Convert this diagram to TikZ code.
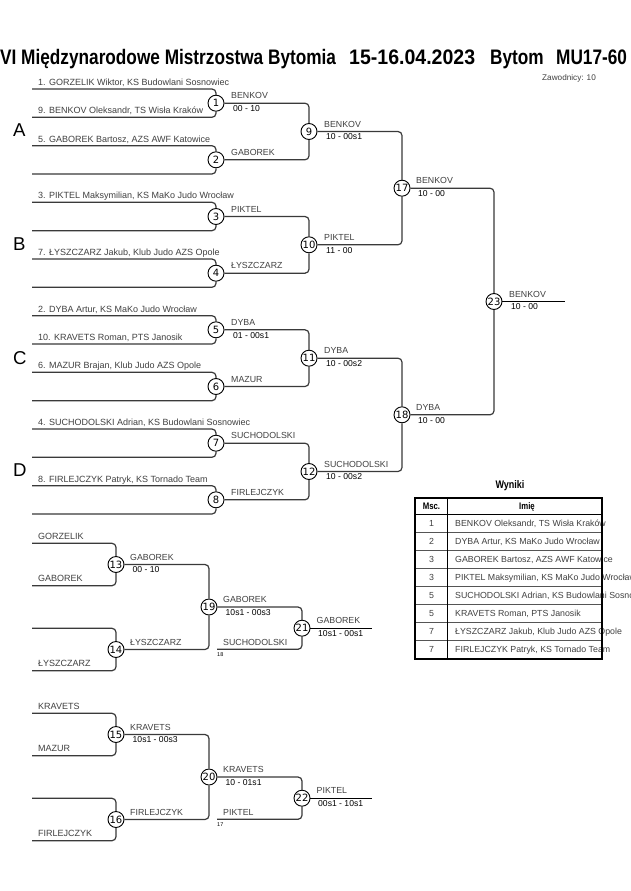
\documentclass[tikz,border=0pt]{standalone}
\usepackage{fontspec}
\setmainfont{Liberation Sans}
\newfontfamily\titlefont[FakeStretch=0.82]{Liberation Sans}
\newfontfamily\datefont[FakeStretch=0.93]{Liberation Sans}
\newfontfamily\numfont{DejaVu Sans}
\definecolor{ln}{HTML}{3A3A3A}
\definecolor{tx}{HTML}{404040}
\definecolor{grid}{HTML}{555555}
\tikzset{
  conn/.style={draw=ln, line width=1.2pt, rounded corners=4pt},
  outl/.style={draw=black, line width=1.1pt},
  mnum/.style={circle, draw=black, fill=white, line width=0.9pt, minimum size=16pt, inner sep=0pt, font=\numfont\fontsize{10}{10}\selectfont},
  entry/.style={anchor=base west, inner sep=0pt, text=tx, font=\fontsize{9}{9}\selectfont},
  wname/.style={anchor=base west, inner sep=0pt, text=tx, font=\fontsize{8.8}{9}\selectfont},
  score/.style={anchor=base west, inner sep=0pt, text=black, font=\fontsize{8.6}{9}\selectfont},
  tiny/.style={anchor=base west, inner sep=0pt, text=black, font=\fontsize{5.5}{6}\selectfont},
  grp/.style={anchor=base west, inner sep=0pt, text=black, font=\fontsize{18.6}{19}\selectfont},
  ttl/.style={anchor=base west, inner sep=0pt, text=black, font=\titlefont\bfseries\fontsize{21}{21}\selectfont},
  ttldate/.style={anchor=base west, inner sep=0pt, text=black, font=\datefont\bfseries\fontsize{21}{21}\selectfont},
  zaw/.style={anchor=base west, inner sep=0pt, text=tx, font=\fontsize{8.2}{9}\selectfont},
  wyn/.style={anchor=base, inner sep=0pt, text=black, font=\titlefont\bfseries\fontsize{11}{11}\selectfont},
  hdr/.style={anchor=base, inner sep=0pt, text=black, font=\titlefont\bfseries\fontsize{9.5}{9.5}\selectfont},
  cell/.style={anchor=base west, inner sep=0pt, text=tx, font=\fontsize{8.8}{9}\selectfont},
  cellc/.style={anchor=base, inner sep=0pt, text=tx, font=\fontsize{8.8}{9}\selectfont},
}
\begin{document}
\begin{tikzpicture}[x=1pt,y=-1pt]
\useasboundingbox[fill=white] (0,0) rectangle (630,891);

% ---------- title ----------
\node[ttl] (title1) at (0,64) {VI Międzynarodowe Mistrzostwa Bytomia};
\node[ttldate] (title2) at (349,64) {15-16.04.2023};
\node[ttl] (title3) at (490,64) {Bytom};
\node[ttl] (title4) at (556,64) {MU17-60};
\node[zaw] (zawod) at (542,80.5) {Zawodnicy: 10};

% ---------- group letters ----------
\node[grp] (gA) at (13,136.7) {A};
\node[grp] (gB) at (13,250) {B};
\node[grp] (gC) at (13,364) {C};
\node[grp] (gD) at (13,476.7) {D};

% ---------- match circles ----------
\foreach \n/\x/\y in {1/216/103.2, 2/216/159.8, 3/216/216.5, 4/216/273.2,
  5/216/329.8, 6/216/386.5, 7/216/443.2, 8/216/499.8,
  9/309/131.5, 10/309/244.8, 11/309/358.2, 12/309/471.5,
  17/402/188.2, 18/402/414.8, 23/494/301.5,
  13/116/564.5, 14/116/649.5, 19/209/607, 21/302/628.2,
  15/116/734.5, 16/116/819.5, 20/209/777, 22/302/798.2}
  \node[mnum] (m\n) at (\x,\y) {\n};

% ---------- entry start points ----------
\foreach \i/\y in {0/89, 1/117.3, 2/145.7, 3/174, 4/202.3, 5/230.7, 6/259, 7/287.3,
  8/315.7, 9/344, 10/372.3, 11/400.7, 12/429, 13/457.3, 14/485.7, 15/514}
  \coordinate (e\i) at (32,\y);
\foreach \i/\y in {0/543.3, 1/585.7, 2/628.3, 3/670.7, 4/713.3, 5/755.7, 6/798.3, 7/840.7}
  \coordinate (r\i) at (32,\y);
\coordinate (f23) at (565,301.5);
\coordinate (f21) at (372,628.2);
\coordinate (f22) at (372,798.2);
\coordinate (i21) at (217,649.3);
\coordinate (i22) at (217,819.3);

% ---------- connectors ----------
\foreach \a/\b/\m in {0/1/1, 2/3/2, 4/5/3, 6/7/4, 8/9/5, 10/11/6, 12/13/7, 14/15/8} {
  \draw[conn] (e\a) -| (m\m);
  \draw[conn] (e\b) -| (m\m);
}
\foreach \a/\b/\m in {0/1/13, 2/3/14, 4/5/15, 6/7/16} {
  \draw[conn] (r\a) -| (m\m);
  \draw[conn] (r\b) -| (m\m);
}
\foreach \s/\t in {1/9, 2/9, 3/10, 4/10, 5/11, 6/11, 7/12, 8/12,
  9/17, 10/17, 11/18, 12/18, 17/23, 18/23,
  13/19, 14/19, 19/21, 15/20, 16/20, 20/22}
  \draw[conn] (m\s) -| (m\t);
\draw[conn] (i21) -| (m21);
\draw[conn] (i22) -| (m22);
\draw[outl] (m23) -- (f23);
\draw[outl] (m21) -- (f21);
\draw[outl] (m22) -- (f22);

% ---------- entry texts ----------
\node[entry] (t0) at (38,85.6) {1. GORZELIK Wiktor, KS Budowlani Sosnowiec};
\node[entry] (t1) at (38,113.9) {9. BENKOV Oleksandr, TS Wisła Kraków};
\node[entry] (t2) at (38,142.3) {5. GABOREK Bartosz, AZS AWF Katowice};
\node[entry] (t4) at (38,198.9) {3. PIKTEL Maksymilian, KS MaKo Judo Wrocław};
\node[entry] (t6) at (38,255.6) {7. ŁYSZCZARZ Jakub, Klub Judo AZS Opole};
\node[entry] (t8) at (38,312.3) {2. DYBA Artur, KS MaKo Judo Wrocław};
\node[entry] (t9) at (38,340.6) {10. KRAVETS Roman, PTS Janosik};
\node[entry] (t10) at (38,368.9) {6. MAZUR Brajan, Klub Judo AZS Opole};
\node[entry] (t12) at (38,425.6) {4. SUCHODOLSKI Adrian, KS Budowlani Sosnowiec};
\node[entry] (t14) at (38,482.3) {8. FIRLEJCZYK Patryk, KS Tornado Team};

\node[entry] (rt0) at (38,539.5) {GORZELIK};
\node[entry] (rt1) at (38,581.9) {GABOREK};
\node[entry] (rt3) at (38,666.9) {ŁYSZCZARZ};
\node[entry] (rt4) at (38,709.5) {KRAVETS};
\node[entry] (rt5) at (38,751.9) {MAZUR};
\node[entry] (rt7) at (38,836.9) {FIRLEJCZYK};

% ---------- winner names and scores ----------
\node[wname] (w1) at (231,98.9) {BENKOV};
\node[score] (s1) at (233,111.6) {00 - 10};
\node[wname] (w2) at (231,155.5) {GABOREK};
\node[wname] (w3) at (231,212.2) {PIKTEL};
\node[wname] (w4) at (231,268.9) {ŁYSZCZARZ};
\node[wname] (w5) at (231,325.5) {DYBA};
\node[score] (s5) at (233,338.2) {01 - 00s1};
\node[wname] (w6) at (231,382.2) {MAZUR};
\node[wname] (w7) at (231,438.9) {SUCHODOLSKI};
\node[wname] (w8) at (231,495.5) {FIRLEJCZYK};
\node[wname] (w9) at (324,127.2) {BENKOV};
\node[score] (s9) at (326,139.9) {10 - 00s1};
\node[wname] (w10) at (324,240.5) {PIKTEL};
\node[score] (s10) at (326,253.2) {11 - 00};
\node[wname] (w11) at (324,353.9) {DYBA};
\node[score] (s11) at (326,366.6) {10 - 00s2};
\node[wname] (w12) at (324,467.2) {SUCHODOLSKI};
\node[score] (s12) at (326,479.9) {10 - 00s2};
\node[wname] (w17) at (416,183.9) {BENKOV};
\node[score] (s17) at (418,196.6) {10 - 00};
\node[wname] (w18) at (416,410.5) {DYBA};
\node[score] (s18) at (418,423.2) {10 - 00};
\node[wname] (w23) at (509,297.2) {BENKOV};
\node[score] (s23) at (511,309.9) {10 - 00};

\node[wname] (w13) at (130,560.2) {GABOREK};
\node[score] (s13) at (132.5,572.9) {00 - 10};
\node[wname] (w14) at (130,645.2) {ŁYSZCZARZ};
\node[wname] (w19) at (223,602.7) {GABOREK};
\node[score] (s19) at (225.5,615.4) {10s1 - 00s3};
\node[wname] (w21) at (316.5,623.9) {GABOREK};
\node[score] (s21) at (318,636.6) {10s1 - 00s1};
\node[wname] (in21) at (223,645) {SUCHODOLSKI};
\node[tiny] (n18) at (217,656) {18};

\node[wname] (w15) at (130,730.2) {KRAVETS};
\node[score] (s15) at (132.5,742.9) {10s1 - 00s3};
\node[wname] (w16) at (130,815.2) {FIRLEJCZYK};
\node[wname] (w20) at (223,772.7) {KRAVETS};
\node[score] (s20) at (225.5,785.4) {10 - 01s1};
\node[wname] (w22) at (316.5,793.9) {PIKTEL};
\node[score] (s22) at (318,806.6) {00s1 - 10s1};
\node[wname] (in22) at (223,815) {PIKTEL};
\node[tiny] (n17) at (217,826) {17};

% ---------- results table ----------
\node[wyn] (wyniki) at (510,488.5) {Wyniki};
\node[hdr] (hmsc) at (431.5,509.5) {Msc.};
\node[hdr] (himie) at (527,509.5) {Imię};
\foreach \k/\p/\nm in {1/1/{BENKOV Oleksandr, TS Wisła Kraków},
  2/2/{DYBA Artur, KS MaKo Judo Wrocław},
  3/3/{GABOREK Bartosz, AZS AWF Katowice},
  4/3/{PIKTEL Maksymilian, KS MaKo Judo Wrocław},
  5/5/{SUCHODOLSKI Adrian, KS Budowlani Sosnowiec},
  6/5/{KRAVETS Roman, PTS Janosik},
  7/7/{ŁYSZCZARZ Jakub, Klub Judo AZS Opole},
  8/7/{FIRLEJCZYK Patryk, KS Tornado Team}} {
  \node[cellc] (p\k) at (431.5,{514+18.1*(\k-0.5)+3.2}) {\p};
  \node[cell] (nm\k) at (455,{514+18.1*(\k-0.5)+3.2}) {\nm};
}
\foreach \k in {1,...,7}
  \draw[grid, line width=0.8pt] (415,{514+18.1*\k}) -- (602,{514+18.1*\k});
\draw[black, line width=1pt] (415,514) -- (602,514);
\draw[black, line width=1pt] (447.7,498) -- (447.7,659);
\draw[black, line width=1.6pt] (415,498) rectangle (602,659);
\end{tikzpicture}
\end{document}
